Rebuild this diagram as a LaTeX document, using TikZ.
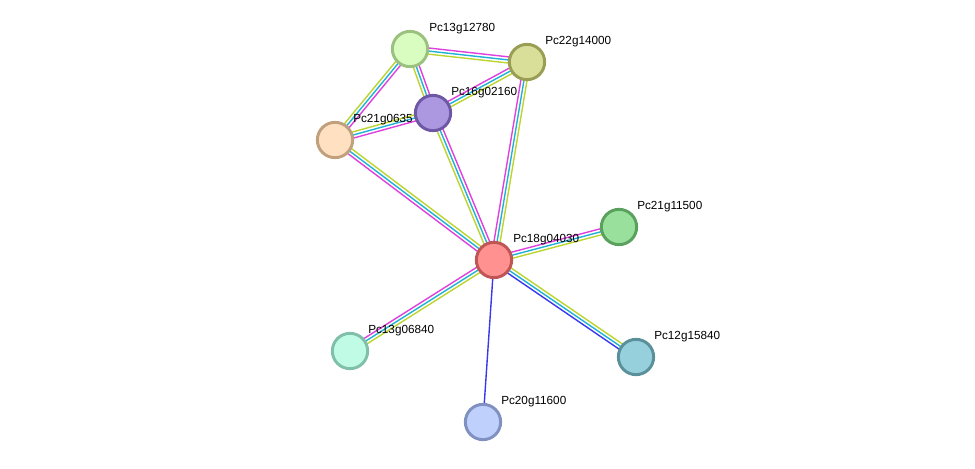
\documentclass[tikz,border=0pt]{standalone}
\usepackage{fontspec}
\setmainfont{Liberation Sans}
\usetikzlibrary{calc, backgrounds}

\definecolor{experiments}{RGB}{222,64,222}
\definecolor{databases}{RGB}{32,178,212}
\definecolor{textmining}{RGB}{188,212,48}
\definecolor{cooccurrence}{RGB}{56,56,240}

\definecolor{fillA}{RGB}{255,145,145}  \definecolor{lineA}{RGB}{192,85,85}
\definecolor{fillB}{RGB}{217,252,192}  \definecolor{lineB}{RGB}{155,193,127}
\definecolor{fillC}{RGB}{217,222,152}  \definecolor{lineC}{RGB}{154,157,84}
\definecolor{fillD}{RGB}{171,152,224}  \definecolor{lineD}{RGB}{110,88,166}
\definecolor{fillE}{RGB}{255,224,192}  \definecolor{lineE}{RGB}{192,160,125}
\definecolor{fillF}{RGB}{153,224,157}  \definecolor{lineF}{RGB}{90,161,94}
\definecolor{fillG}{RGB}{192,251,229}  \definecolor{lineG}{RGB}{128,192,170}
\definecolor{fillH}{RGB}{149,208,220}  \definecolor{lineH}{RGB}{90,144,153}
\definecolor{fillI}{RGB}{192,208,252}  \definecolor{lineI}{RGB}{128,144,192}

% parallel lines between two proteins, colours listed from left to right
\newcommand{\strlink}[3]{%
  \foreach \col [count=\i] in {#3} {\xdef\nlines{\i}}%
  \foreach \col [count=\i] in {#3} {
    \pgfmathsetmacro{\off}{((\nlines+1)/2-\i)*2.3}
    \draw[link, draw=\col] ($(#1.center)!\off pt!90:(#2.center)$) -- ($(#2.center)!\off pt!-90:(#1.center)$);
  }%
}

\begin{document}
\begin{tikzpicture}[x=0.75pt, y=-0.75pt]

% TikZ styles
\tikzset{
  protein/.style={circle, line width=2.2pt, minimum size=26.5pt, inner sep=0pt},
  lbl/.style={anchor=west, inner sep=0pt, font=\fontsize{8.8}{10}\selectfont},
  link/.style={line width=1.05pt}
};

\useasboundingbox (0,0) rectangle (975,468);

% --- Proteine ---
\node[protein, fill=fillE, draw=lineE] (pc21g0635) at (335,140) {};
\node[lbl] (t21g0635) at (353,120) {Pc21g0635};
\node[protein, fill=fillB, draw=lineB] (pc13g12780) at (410,49) {};
\node[lbl] (t13g12780) at (429,29) {Pc13g12780};
\node[protein, fill=fillC, draw=lineC] (pc22g14000) at (527,62) {};
\node[lbl] (t22g14000) at (545,42) {Pc22g14000};
\node[protein, fill=fillD, draw=lineD] (pc16g02160) at (433,113) {};
\node[lbl] (t16g02160) at (451,93) {Pc16g02160};
\node[protein, fill=fillF, draw=lineF] (pc21g11500) at (619,227) {};
\node[lbl] (t21g11500) at (637,207) {Pc21g11500};
\node[protein, fill=fillA, draw=lineA] (pc18g04030) at (494,260) {};
\node[lbl] (t18g04030) at (513,240) {Pc18g04030};
\node[protein, fill=fillG, draw=lineG] (pc13g06840) at (350,351) {};
\node[lbl] (t13g06840) at (368,331) {Pc13g06840};
\node[protein, fill=fillH, draw=lineH] (pc12g15840) at (636,357) {};
\node[lbl] (t12g15840) at (654,337) {Pc12g15840};
\node[protein, fill=fillI, draw=lineI] (pc20g11600) at (483,422) {};
\node[lbl] (t20g11600) at (501,402) {Pc20g11600};

% --- Verbindungen ---
\begin{scope}[on background layer]
\strlink{pc13g12780}{pc22g14000}{experiments,databases,textmining}
\strlink{pc13g12780}{pc16g02160}{experiments,databases,textmining}
\strlink{pc13g12780}{pc21g0635}{experiments,databases,textmining}
\strlink{pc16g02160}{pc22g14000}{experiments,databases,textmining}
\strlink{pc18g04030}{pc22g14000}{experiments,databases,textmining}
\strlink{pc16g02160}{pc21g0635}{experiments,databases,textmining}
\strlink{pc16g02160}{pc18g04030}{experiments,databases,textmining}
\strlink{pc18g04030}{pc21g0635}{experiments,databases,textmining}
\strlink{pc18g04030}{pc21g11500}{experiments,databases,textmining}
\strlink{pc13g06840}{pc18g04030}{experiments,databases,textmining}
\strlink{pc12g15840}{pc18g04030}{cooccurrence,databases,textmining}
\strlink{pc18g04030}{pc20g11600}{cooccurrence}
\end{scope}
\end{tikzpicture}
\end{document}
